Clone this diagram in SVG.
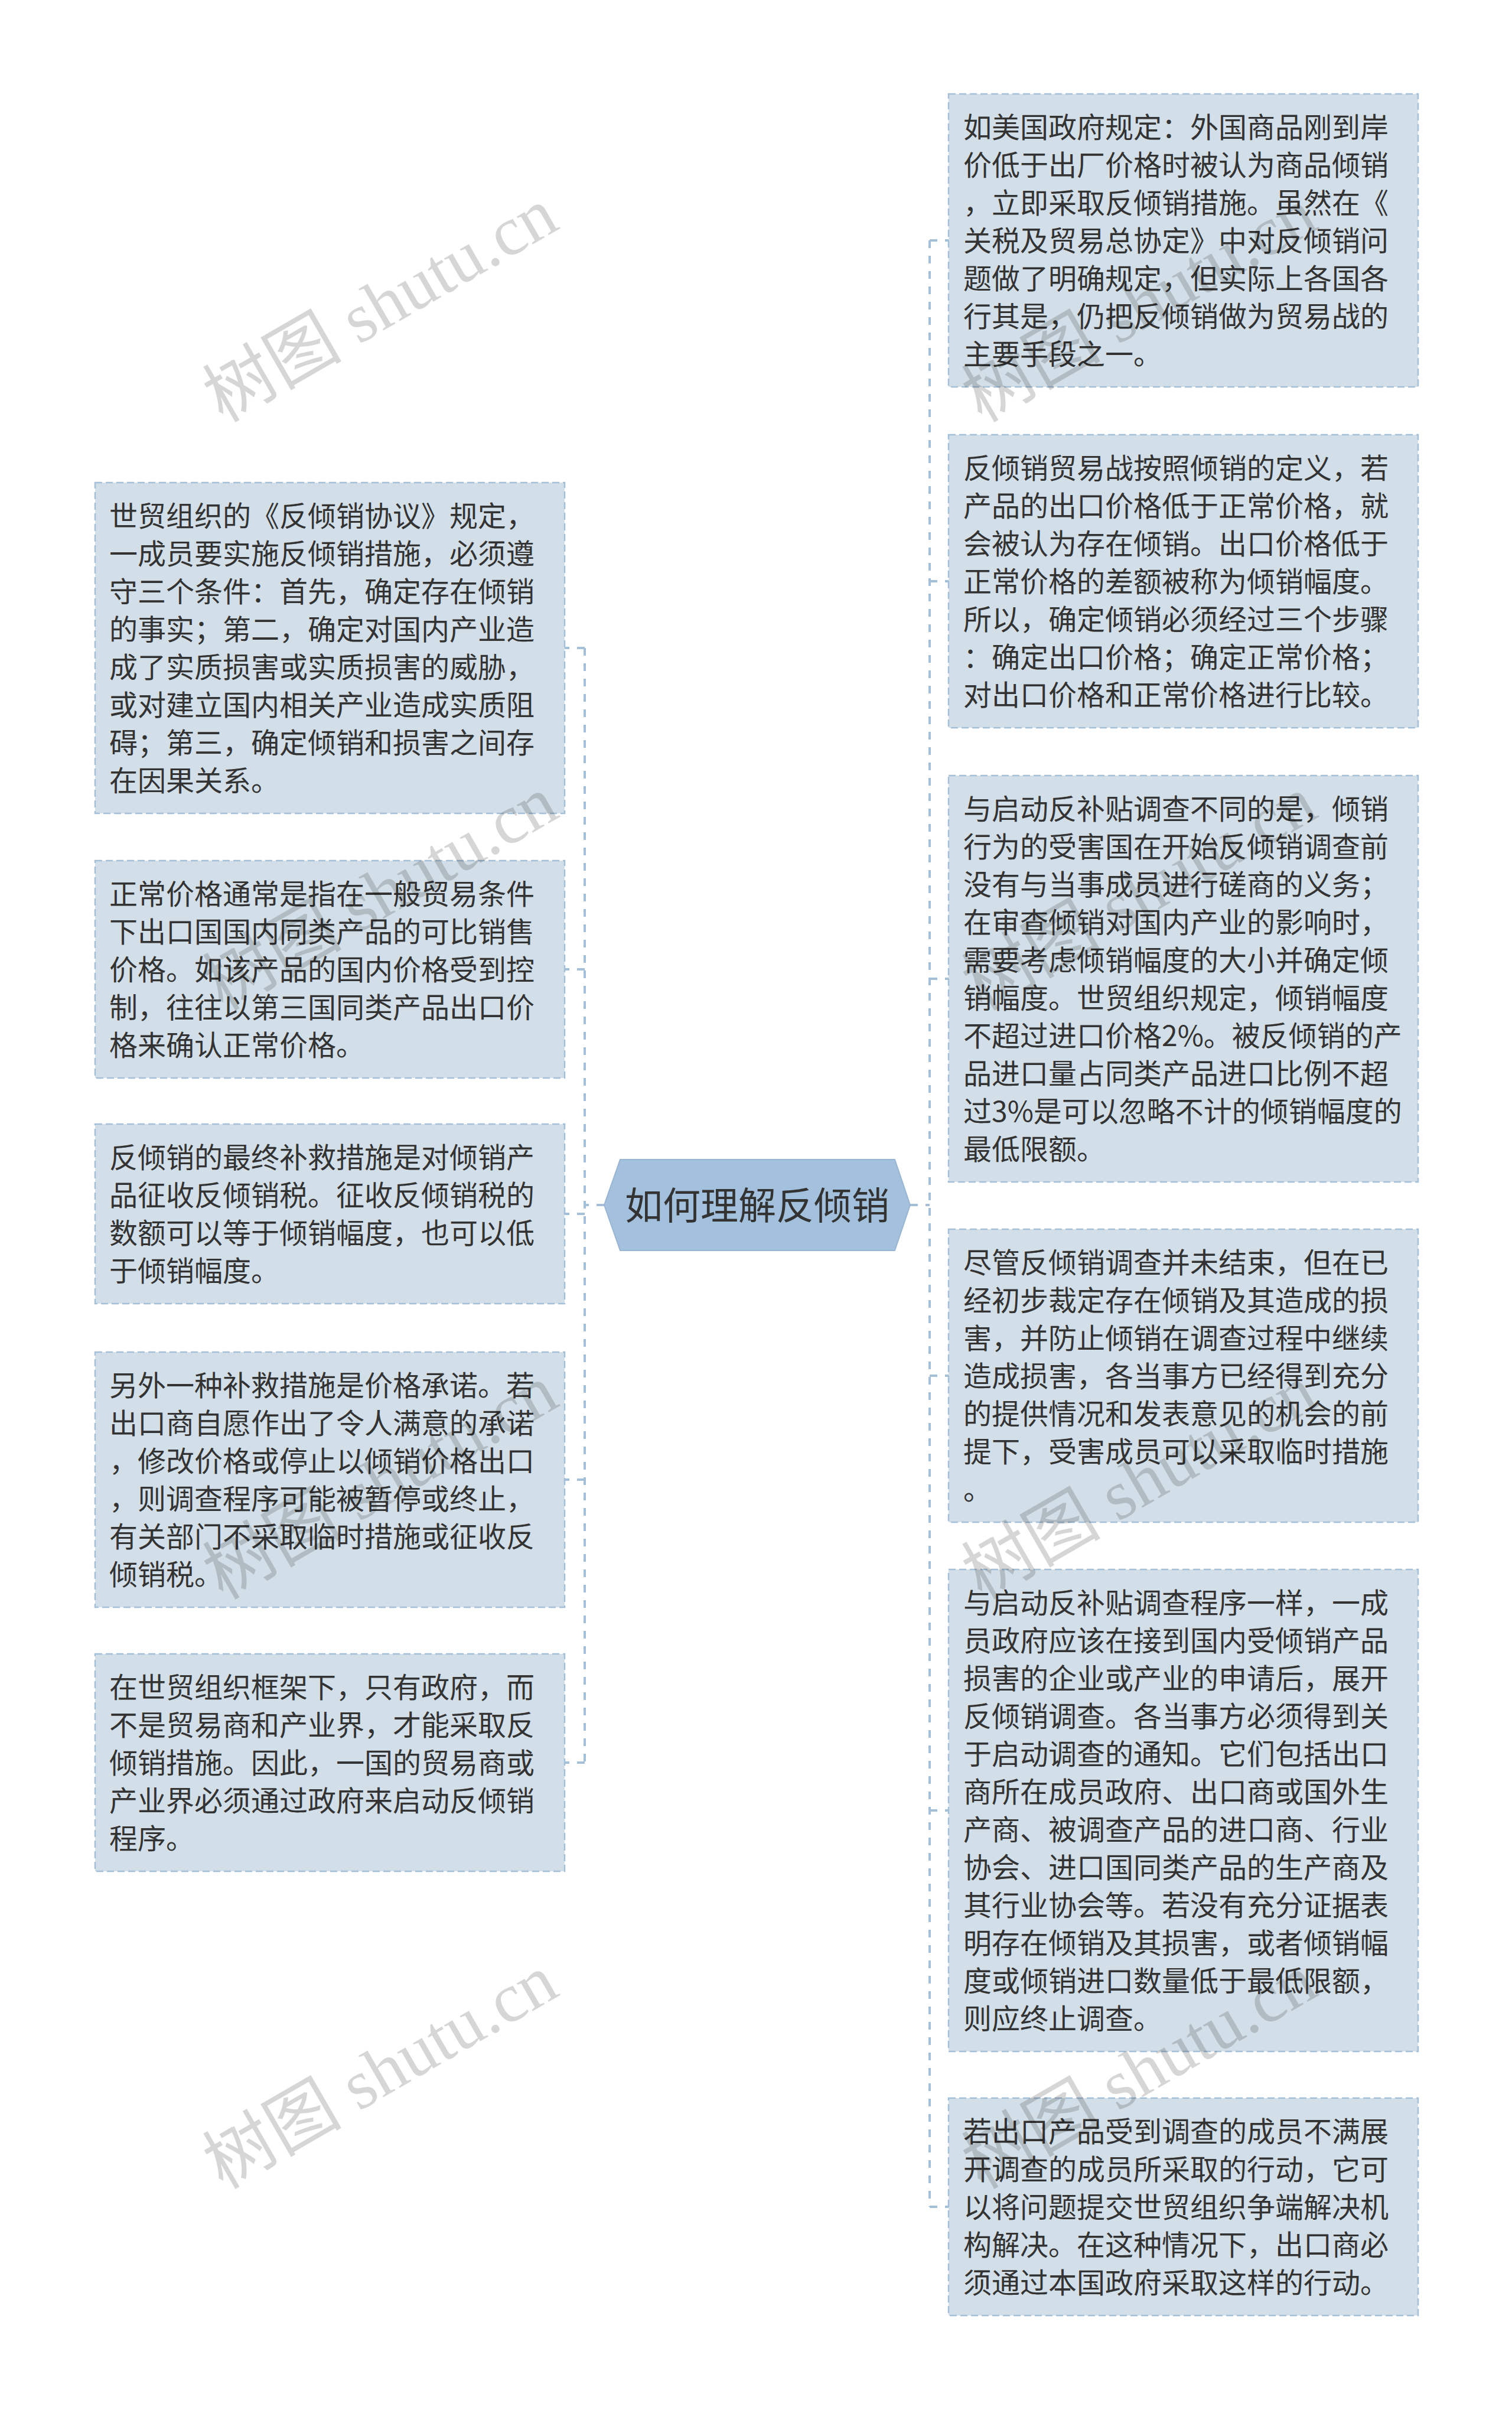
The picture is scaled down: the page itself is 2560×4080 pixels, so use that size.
<svg xmlns="http://www.w3.org/2000/svg" width="2560" height="4080" viewBox="0 0 2560 4080">
<style>
.box{fill:#d3dfe8;stroke:#a4bfd8;stroke-width:2.5;stroke-dasharray:12 6}
.hex{fill:#a3c0dc;stroke:#98b6d4;stroke-width:2}
.t{font-family:"Noto Sans CJK SC","Noto Sans",sans-serif;font-size:48px;fill:#333333}
.ct{font-family:"Noto Sans CJK SC","Noto Sans",sans-serif;font-size:64px;fill:#333333}
.conn{stroke:#a4bfd8;stroke-width:4;stroke-dasharray:13 13;fill:none}
.wm{font-family:"Liberation Serif","Noto Sans CJK SC",serif;font-size:118px;fill:#000000;fill-opacity:0.16}
</style>
<rect width="2560" height="4080" fill="#ffffff"/>
<g id="connectors">
<path class="conn" d="M1023,2040 H990 M990,1097 V2984 M990,1097 H956 M990,1641 H956 M990,2055 H956 M990,2505 H956 M990,2984 H956"/>
<path class="conn" d="M1541,2040 H1574 M1574,407 V3736 M1574,407 H1606 M1574,984 H1606 M1574,1657 H1606 M1574,2329 H1606 M1574,3065 H1606 M1574,3736 H1606"/>
</g>
<g id="center">
<polygon class="hex" points="1023,2040 1050,1963 1515,1963 1541,2040 1515,2117 1050,2117"/>
<text class="ct" x="1282" y="2064" text-anchor="middle">如何理解反倾销</text>
</g>
<g id="L1">
<rect class="box" x="161" y="817" width="795" height="560"/>
<text class="t" x="185" y="891"><tspan x="185">世贸组织的《反倾销协议》规定，</tspan><tspan x="185" dy="64">一成员要实施反倾销措施，必须遵</tspan><tspan x="185" dy="64">守三个条件：首先，确定存在倾销</tspan><tspan x="185" dy="64">的事实；第二，确定对国内产业造</tspan><tspan x="185" dy="64">成了实质损害或实质损害的威胁，</tspan><tspan x="185" dy="64">或对建立国内相关产业造成实质阻</tspan><tspan x="185" dy="64">碍；第三，确定倾销和损害之间存</tspan><tspan x="185" dy="64">在因果关系。</tspan></text>
</g>
<g id="L2">
<rect class="box" x="161" y="1457" width="795" height="368"/>
<text class="t" x="185" y="1531"><tspan x="185">正常价格通常是指在一般贸易条件</tspan><tspan x="185" dy="64">下出口国国内同类产品的可比销售</tspan><tspan x="185" dy="64">价格。如该产品的国内价格受到控</tspan><tspan x="185" dy="64">制，往往以第三国同类产品出口价</tspan><tspan x="185" dy="64">格来确认正常价格。</tspan></text>
</g>
<g id="L3">
<rect class="box" x="161" y="1903" width="795" height="304"/>
<text class="t" x="185" y="1977"><tspan x="185">反倾销的最终补救措施是对倾销产</tspan><tspan x="185" dy="64">品征收反倾销税。征收反倾销税的</tspan><tspan x="185" dy="64">数额可以等于倾销幅度，也可以低</tspan><tspan x="185" dy="64">于倾销幅度。</tspan></text>
</g>
<g id="L4">
<rect class="box" x="161" y="2289" width="795" height="432"/>
<text class="t" x="185" y="2363"><tspan x="185">另外一种补救措施是价格承诺。若</tspan><tspan x="185" dy="64">出口商自愿作出了令人满意的承诺</tspan><tspan x="185" dy="64">，修改价格或停止以倾销价格出口</tspan><tspan x="185" dy="64">，则调查程序可能被暂停或终止，</tspan><tspan x="185" dy="64">有关部门不采取临时措施或征收反</tspan><tspan x="185" dy="64">倾销税。</tspan></text>
</g>
<g id="L5">
<rect class="box" x="161" y="2800" width="795" height="368"/>
<text class="t" x="185" y="2874"><tspan x="185">在世贸组织框架下，只有政府，而</tspan><tspan x="185" dy="64">不是贸易商和产业界，才能采取反</tspan><tspan x="185" dy="64">倾销措施。因此，一国的贸易商或</tspan><tspan x="185" dy="64">产业界必须通过政府来启动反倾销</tspan><tspan x="185" dy="64">程序。</tspan></text>
</g>
<g id="R1">
<rect class="box" x="1606" y="159" width="795" height="496"/>
<text class="t" x="1631" y="233"><tspan x="1631">如美国政府规定：外国商品刚到岸</tspan><tspan x="1631" dy="64">价低于出厂价格时被认为商品倾销</tspan><tspan x="1631" dy="64">，立即采取反倾销措施。虽然在《</tspan><tspan x="1631" dy="64">关税及贸易总协定》中对反倾销问</tspan><tspan x="1631" dy="64">题做了明确规定，但实际上各国各</tspan><tspan x="1631" dy="64">行其是，仍把反倾销做为贸易战的</tspan><tspan x="1631" dy="64">主要手段之一。</tspan></text>
</g>
<g id="R2">
<rect class="box" x="1606" y="736" width="795" height="496"/>
<text class="t" x="1631" y="810"><tspan x="1631">反倾销贸易战按照倾销的定义，若</tspan><tspan x="1631" dy="64">产品的出口价格低于正常价格，就</tspan><tspan x="1631" dy="64">会被认为存在倾销。出口价格低于</tspan><tspan x="1631" dy="64">正常价格的差额被称为倾销幅度。</tspan><tspan x="1631" dy="64">所以，确定倾销必须经过三个步骤</tspan><tspan x="1631" dy="64">：确定出口价格；确定正常价格；</tspan><tspan x="1631" dy="64">对出口价格和正常价格进行比较。</tspan></text>
</g>
<g id="R3">
<rect class="box" x="1606" y="1313" width="795" height="688"/>
<text class="t" x="1631" y="1387"><tspan x="1631">与启动反补贴调查不同的是，倾销</tspan><tspan x="1631" dy="64">行为的受害国在开始反倾销调查前</tspan><tspan x="1631" dy="64">没有与当事成员进行磋商的义务；</tspan><tspan x="1631" dy="64">在审查倾销对国内产业的影响时，</tspan><tspan x="1631" dy="64">需要考虑倾销幅度的大小并确定倾</tspan><tspan x="1631" dy="64">销幅度。世贸组织规定，倾销幅度</tspan><tspan x="1631" dy="64">不超过进口价格2%。被反倾销的产</tspan><tspan x="1631" dy="64">品进口量占同类产品进口比例不超</tspan><tspan x="1631" dy="64">过3%是可以忽略不计的倾销幅度的</tspan><tspan x="1631" dy="64">最低限额。</tspan></text>
</g>
<g id="R4">
<rect class="box" x="1606" y="2081" width="795" height="496"/>
<text class="t" x="1631" y="2155"><tspan x="1631">尽管反倾销调查并未结束，但在已</tspan><tspan x="1631" dy="64">经初步裁定存在倾销及其造成的损</tspan><tspan x="1631" dy="64">害，并防止倾销在调查过程中继续</tspan><tspan x="1631" dy="64">造成损害，各当事方已经得到充分</tspan><tspan x="1631" dy="64">的提供情况和发表意见的机会的前</tspan><tspan x="1631" dy="64">提下，受害成员可以采取临时措施</tspan><tspan x="1631" dy="64">。</tspan></text>
</g>
<g id="R5">
<rect class="box" x="1606" y="2657" width="795" height="816"/>
<text class="t" x="1631" y="2731"><tspan x="1631">与启动反补贴调查程序一样，一成</tspan><tspan x="1631" dy="64">员政府应该在接到国内受倾销产品</tspan><tspan x="1631" dy="64">损害的企业或产业的申请后，展开</tspan><tspan x="1631" dy="64">反倾销调查。各当事方必须得到关</tspan><tspan x="1631" dy="64">于启动调查的通知。它们包括出口</tspan><tspan x="1631" dy="64">商所在成员政府、出口商或国外生</tspan><tspan x="1631" dy="64">产商、被调查产品的进口商、行业</tspan><tspan x="1631" dy="64">协会、进口国同类产品的生产商及</tspan><tspan x="1631" dy="64">其行业协会等。若没有充分证据表</tspan><tspan x="1631" dy="64">明存在倾销及其损害，或者倾销幅</tspan><tspan x="1631" dy="64">度或倾销进口数量低于最低限额，</tspan><tspan x="1631" dy="64">则应终止调查。</tspan></text>
</g>
<g id="R6">
<rect class="box" x="1606" y="3552" width="795" height="368"/>
<text class="t" x="1631" y="3626"><tspan x="1631">若出口产品受到调查的成员不满展</tspan><tspan x="1631" dy="64">开调查的成员所采取的行动，它可</tspan><tspan x="1631" dy="64">以将问题提交世贸组织争端解决机</tspan><tspan x="1631" dy="64">构解决。在这种情况下，出口商必</tspan><tspan x="1631" dy="64">须通过本国政府采取这样的行动。</tspan></text>
</g>
<g id="watermarks">
<text class="wm" text-anchor="middle" transform="translate(645,518) rotate(-30)" y="38">树图 shutu.cn</text>
<text class="wm" text-anchor="middle" transform="translate(645,1514) rotate(-30)" y="38">树图 shutu.cn</text>
<text class="wm" text-anchor="middle" transform="translate(645,2511) rotate(-30)" y="38">树图 shutu.cn</text>
<text class="wm" text-anchor="middle" transform="translate(645,3509) rotate(-30)" y="38">树图 shutu.cn</text>
<text class="wm" text-anchor="middle" transform="translate(1930,518) rotate(-30)" y="38">树图 shutu.cn</text>
<text class="wm" text-anchor="middle" transform="translate(1930,1514) rotate(-30)" y="38">树图 shutu.cn</text>
<text class="wm" text-anchor="middle" transform="translate(1930,2511) rotate(-30)" y="38">树图 shutu.cn</text>
<text class="wm" text-anchor="middle" transform="translate(1930,3509) rotate(-30)" y="38">树图 shutu.cn</text>
</g>
</svg>
